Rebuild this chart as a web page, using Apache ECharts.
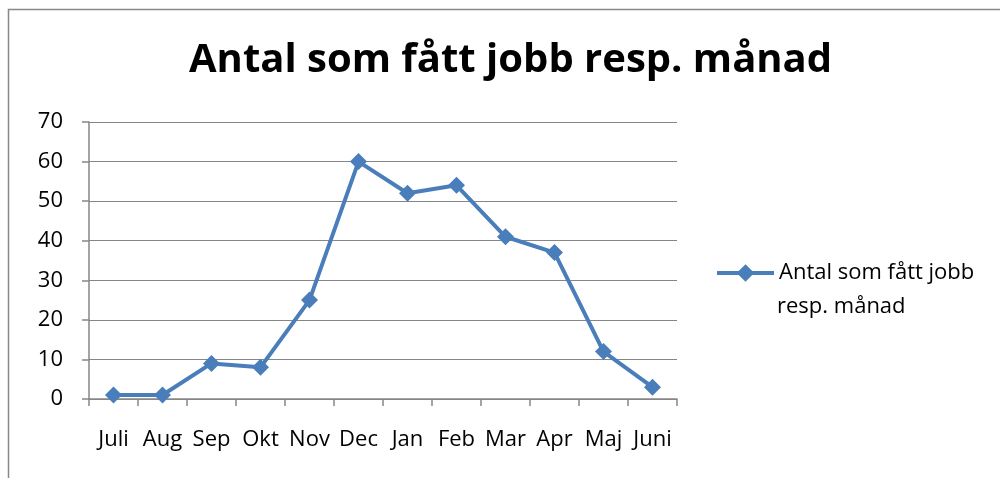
<!DOCTYPE html>
<html><head><meta charset="utf-8">
<script src="https://cdn.jsdelivr.net/npm/echarts@6/dist/echarts.min.js"></script>
<style>html,body{margin:0;padding:0;background:#fff}#c{width:1000px;height:478px}</style>
</head><body><div id="c"></div>
<script>
const categories = ["Juli","Aug","Sep","Okt","Nov","Dec","Jan","Feb","Mar","Apr","Maj","Juni"];
const values = [1,1,9,8,25,60,52,54,41,37,12,3];
const seriesName = "Antal som fått jobb resp. månad";
const titleText = "Antal som fått jobb resp. månad";
const legendLine1 = "Antal som fått jobb";
const legendLine2 = "resp. månad";
const font = "'Open Sans', sans-serif";
const chart = echarts.init(document.getElementById('c'), null, {renderer:'canvas'});
chart.setOption({
  animation:false,
  graphic:[
    {type:'rect',shape:{x:8.5,y:9.5,width:1200,height:800},style:{fill:'none',stroke:'#888',lineWidth:1.5},silent:true},
    {type:'text',left:777,top:296,style:{text:legendLine2,font:"22px 'Open Sans', sans-serif",fill:'#000'},silent:true}
  ],
  title:{text:titleText,left:189,top:41,textStyle:{fontFamily:font,fontWeight:'bold',fontSize:40,color:'#000'},padding:0,itemGap:0},
  legend:{show:true,orient:'vertical',left:715,top:262,padding:0,itemWidth:57,itemHeight:22,itemGap:0,
    lineStyle:{width:4},
    formatter:function(){return legendLine1;},
    textStyle:{fontFamily:font,fontSize:22,color:'#000'}},
  grid:{left:89,right:323,top:122,bottom:79,containLabel:false},
  xAxis:{type:'category',data:categories,boundaryGap:true,
    axisLine:{lineStyle:{color:'#868686',width:1.5}},
    axisTick:{show:true,alignWithLabel:false,length:7,lineStyle:{color:'#868686',width:1.5}},
    axisLabel:{fontFamily:font,fontSize:22,color:'#000',margin:30,interval:0}},
  yAxis:{type:'value',min:0,max:70,interval:10,
    axisLine:{show:true,lineStyle:{color:'#868686',width:1.5}},
    axisTick:{show:true,length:7,lineStyle:{color:'#868686',width:1.5}},
    splitLine:{lineStyle:{color:'#868686',width:1}},
    axisLabel:{fontFamily:font,fontSize:22,color:'#000',margin:26}},
  series:[{name:seriesName,type:'line',data:values,symbol:'diamond',symbolSize:17,
    lineStyle:{color:'#4a7ebb',width:4},itemStyle:{color:'#4a7ebb'}}]
});
</script></body></html>
